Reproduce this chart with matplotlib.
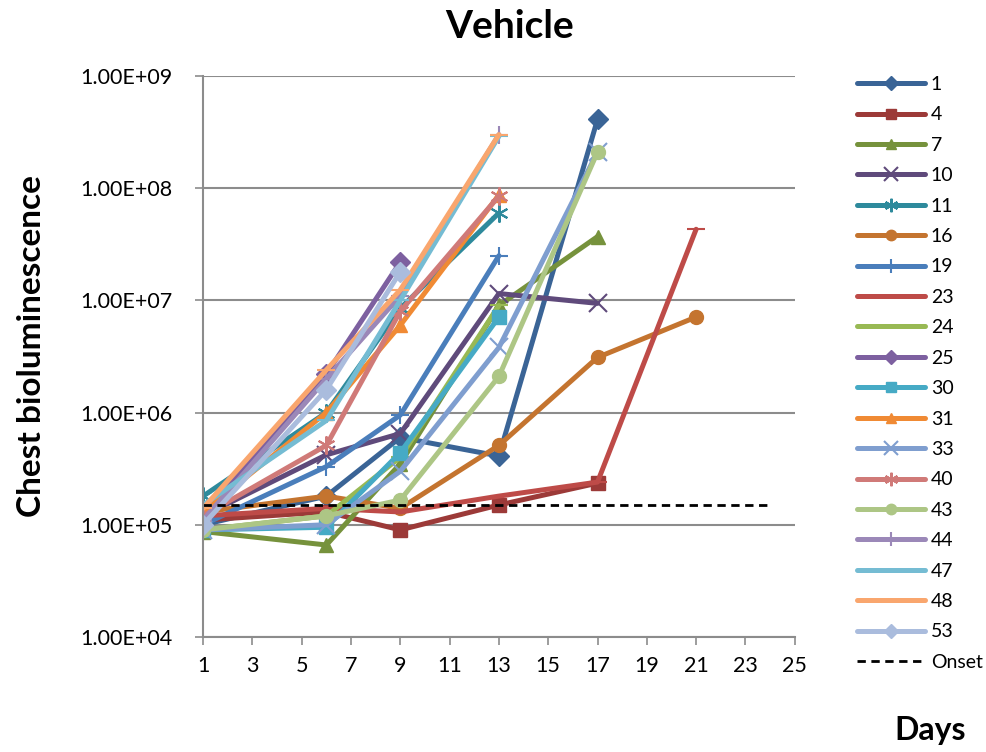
import matplotlib.pyplot as plt
from matplotlib.ticker import FixedLocator, FuncFormatter

plt.rcParams['font.family'] = ['Lato', 'DejaVu Sans']

# series: name -> (days, values)
names = ['1', '4', '7', '10', '11', '16', '19', '23', '24', '25',
         '30', '31', '33', '40', '43', '44', '47', '48', '53']

days = {
    '1':  [1, 6, 9, 13, 17],
    '4':  [1, 6, 9, 13, 17],
    '7':  [1, 6, 9, 13, 17],
    '10': [1, 6, 9, 13, 17],
    '11': [1, 6, 9, 13],
    '16': [1, 6, 9, 13, 17, 21],
    '19': [1, 6, 9, 13],
    '23': [1, 6, 9, 13, 17, 21],
    '24': [1, 6, 9, 13],
    '25': [1, 6, 9],
    '30': [1, 6, 9, 13],
    '31': [1, 6, 9, 13],
    '33': [1, 6, 9, 13, 17],
    '40': [1, 6, 9, 13],
    '43': [1, 6, 9, 13, 17],
    '44': [1, 6, 9, 13],
    '47': [1, 6, 9, 13],
    '48': [1, 6, 9, 13],
    '53': [1, 6, 9],
}

values = {
    '1':  [1.0e5, 1.8e5, 6.0e5, 4.1e5, 4.1e8],
    '4':  [1.1e5, 1.3e5, 9.0e4, 1.5e5, 2.35e5],
    '7':  [8.7e4, 6.6e4, 3.5e5, 9.0e6, 3.7e7],
    '10': [1.2e5, 4.2e5, 6.5e5, 1.15e7, 9.4e6],
    '11': [1.8e5, 1.0e6, 8.5e6, 6.0e7],
    '16': [1.3e5, 1.8e5, 1.4e5, 5.1e5, 3.1e6, 7.1e6],
    '19': [1.0e5, 3.3e5, 9.5e5, 2.5e7],
    '23': [1.2e5, 1.4e5, 1.3e5, 1.8e5, 2.4e5, 4.3e7],
    '24': [9.0e4, 1.2e5, 4.0e5, 9.0e6],
    '25': [1.2e5, 2.2e6, 2.2e7],
    '30': [9.0e4, 9.5e4, 4.4e5, 7.1e6],
    '31': [1.3e5, 1.0e6, 6.0e6, 8.7e7],
    '33': [9.0e4, 1.0e5, 3.0e5, 3.8e6, 2.1e8],
    '40': [1.2e5, 5.1e5, 8.0e6, 8.5e7],
    '43': [9.0e4, 1.2e5, 1.66e5, 2.1e6, 2.1e8],
    '44': [1.1e5, 2.0e6, 1.1e7, 3.0e8],
    '47': [1.5e5, 8.5e5, 1.0e7, 2.9e8],
    '48': [1.4e5, 2.4e6, 1.24e7, 3.0e8],
    '53': [1.0e5, 1.6e6, 1.8e7],
}

colors = {
    '1': '#3A6496', '4': '#9C3A38', '7': '#76923C', '10': '#5F4A7B',
    '11': '#2E8A9C', '16': '#C4742F', '19': '#4A7EBB', '23': '#BE4B48',
    '24': '#98B954', '25': '#7D60A0', '30': '#46AAC5', '31': '#F08A34',
    '33': '#7F9ECF', '40': '#D07A78', '43': '#ADC685', '44': '#9B88B8',
    '47': '#75BCD3', '48': '#F9A66E', '53': '#AABCDD',
}

markers = {
    '1': 'D', '4': 's', '7': '^', '10': 'x', '11': (6, 2, 0), '16': 'o',
    '19': '+', '23': '_', '24': '_', '25': 'D', '30': 's', '31': '^',
    '33': 'x', '40': (6, 2, 0), '43': 'o', '44': '+', '47': '_', '48': '_',
    '53': 'D',
}

onset_days = [1, 24]
onset_value = 1.5e5

fig = plt.figure(figsize=(9.86, 7.52), dpi=100)
ax = fig.add_axes([0.206, 0.153, 0.6, 0.746])

for n in names:
    m = markers[n]
    thin = m in ('x', '+', (6, 2, 0), '_')
    ms = 13 if thin else 10
    ax.plot(days[n], values[n], color=colors[n], lw=3.6, marker=m,
            markersize=ms, markeredgewidth=1.5 if thin else 1,
            markeredgecolor=colors[n], label=n, solid_capstyle='round')

ax.plot(onset_days, [onset_value] * 2, color='black', lw=2,
        linestyle=(0, (3, 2)), label='Onset')

ax.set_yscale('log')
ax.set_ylim(1e4, 1e9)
ax.set_xlim(1, 25)
ax.xaxis.set_major_locator(FixedLocator(range(1, 26, 2)))
ax.yaxis.set_major_locator(FixedLocator([1e4, 1e5, 1e6, 1e7, 1e8, 1e9]))
ax.yaxis.set_minor_locator(FixedLocator([]))
ax.yaxis.set_major_formatter(FuncFormatter(lambda v, p: '%.2E' % v))
ax.grid(axis='y', color='#8C8C8C', lw=1.5)
ax.set_axisbelow(True)

for s in ['top', 'right']:
    ax.spines[s].set_visible(False)
for s in ['left', 'bottom']:
    ax.spines[s].set_color('#8C8C8C')
    ax.spines[s].set_linewidth(1.5)
ax.tick_params(axis='both', colors='#8C8C8C', length=6, width=1.2,
               labelsize=15.5, labelcolor='black')
ax.tick_params(axis='x', pad=8)
ax.tick_params(axis='y', pad=16)

fig.text(0.517, 0.965, 'Vehicle', ha='center', va='center',
         fontsize=28, fontweight='bold')
fig.text(0.032, 0.54, 'Chest bioluminescence', rotation=90, ha='center',
         va='center', fontsize=24, fontweight='bold')
fig.text(0.943, 0.029, 'Days', ha='center', va='center', fontsize=23,
         fontweight='bold')

fig.legend(loc='upper left', bbox_to_anchor=(0.869, 0.899), frameon=False,
           fontsize=14, handlelength=3.5, labelspacing=0.69, handletextpad=0.3,
           borderaxespad=0, borderpad=0, markerscale=0.75)

fig.savefig('out.png', dpi=100)
